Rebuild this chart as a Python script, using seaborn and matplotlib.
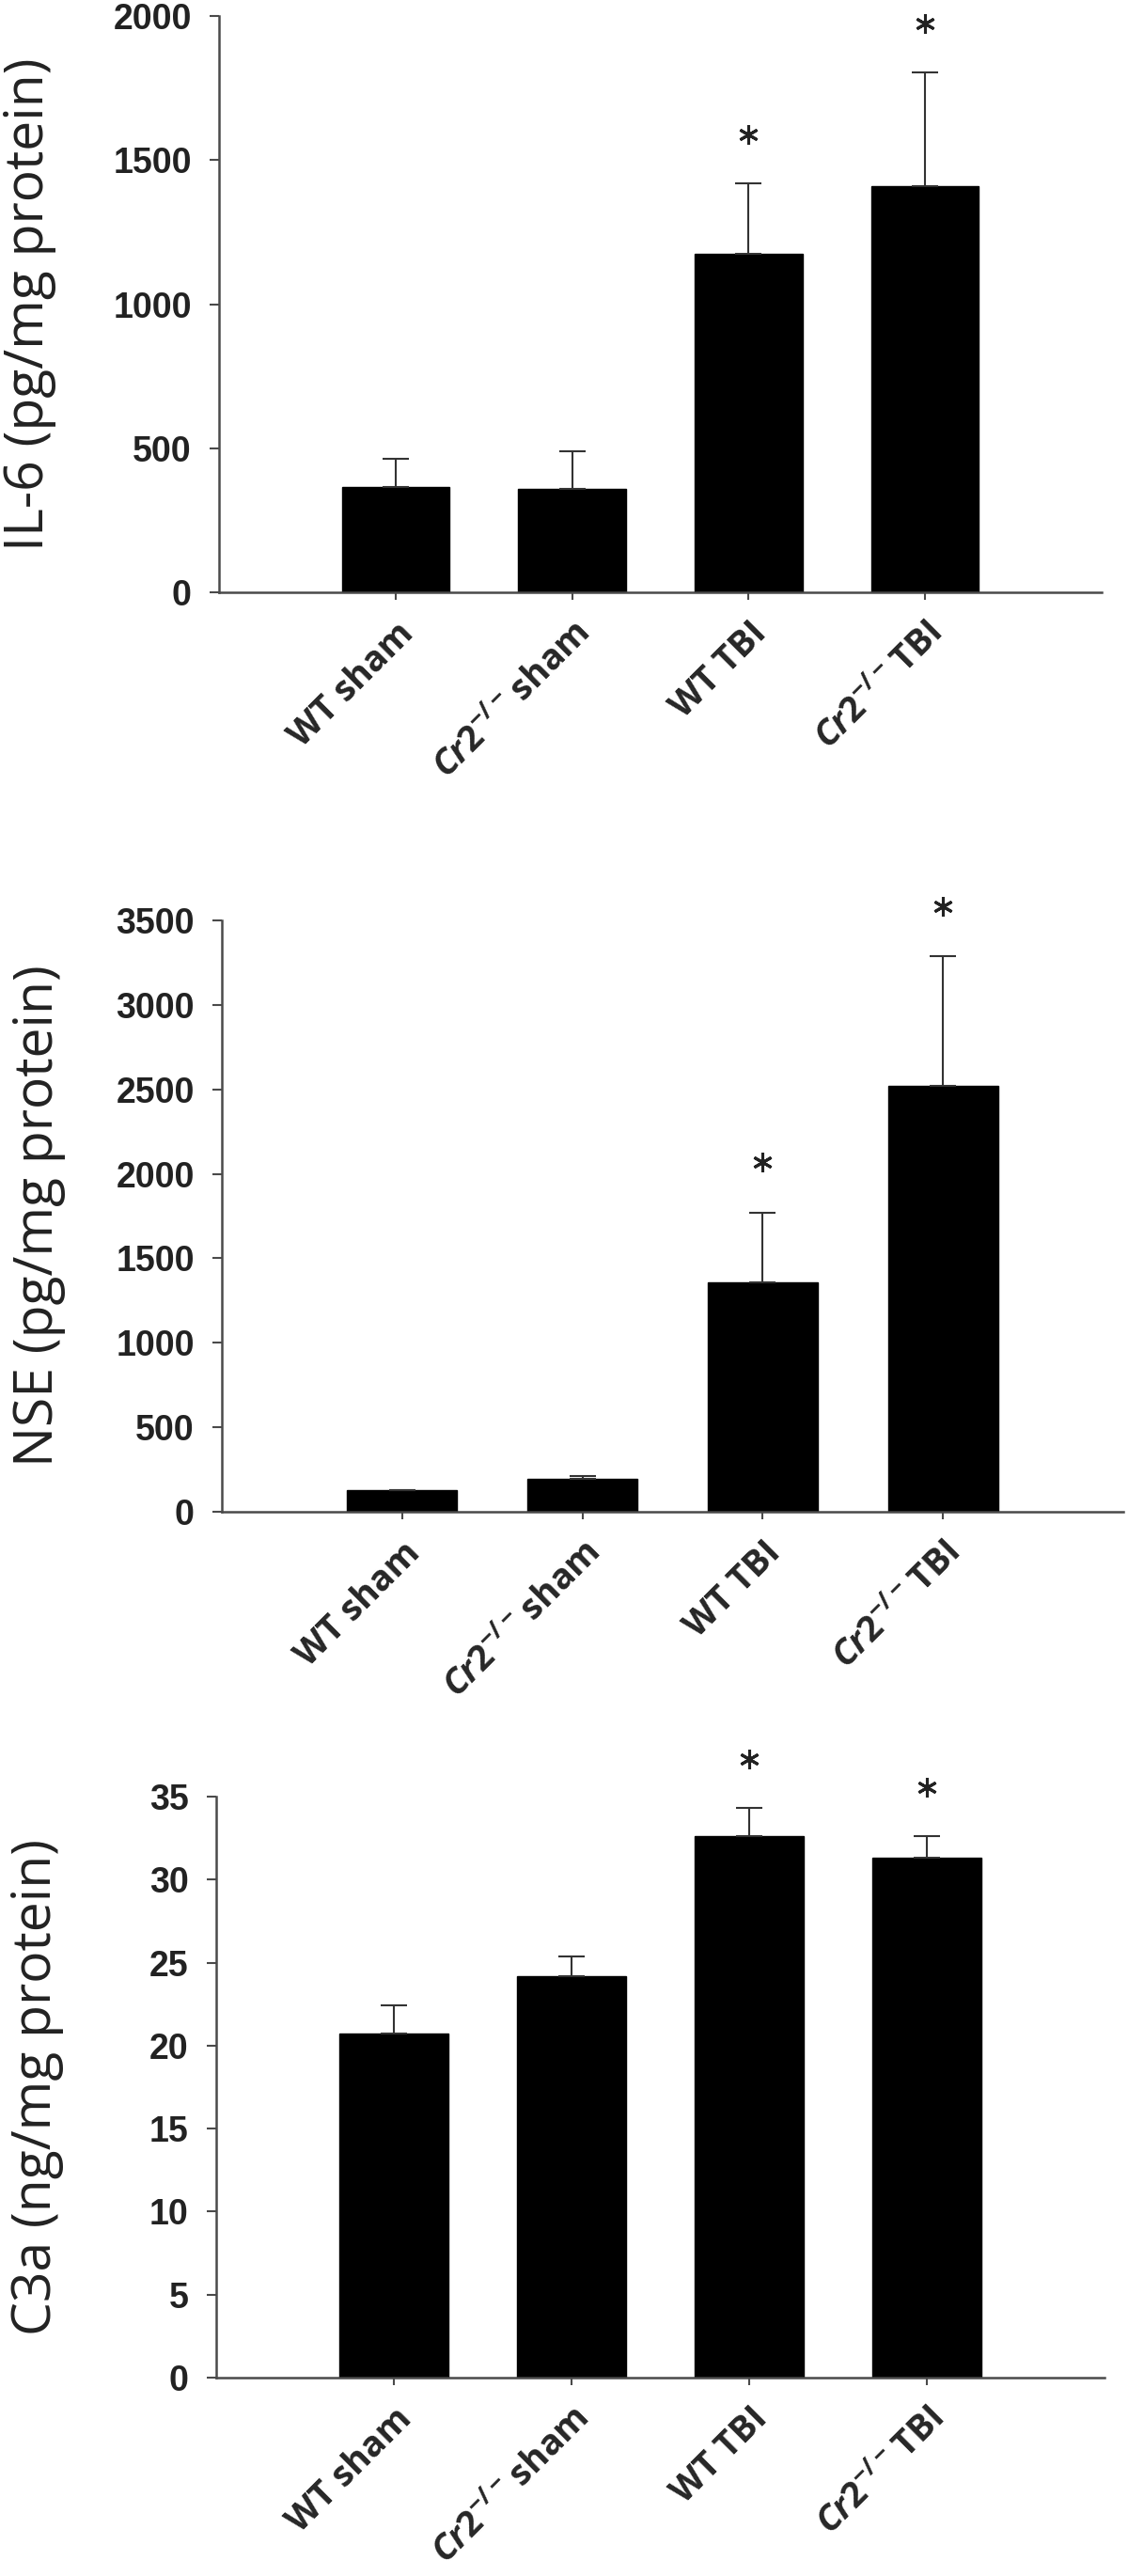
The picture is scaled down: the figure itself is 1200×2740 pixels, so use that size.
"""
Three stacked bar charts (IL-6, NSE, C3a) for WT vs Cr2-/- mice, sham vs TBI.
Mean + SEM (upper bar only), asterisks mark significance vs sham.
"""

import numpy as np
import pandas as pd
import matplotlib
matplotlib.use("Agg")
import matplotlib.pyplot as plt
import seaborn as sns

# --- data ---
groups = ["WT sham", "Cr2-/- sham", "WT TBI", "Cr2-/- TBI"]
tick_labels = [
    "WT sham",
    r"$\mathit{Cr2}^{\mathit{-/-}}\!$ sham",
    "WT TBI",
    r"$\mathit{Cr2}^{\mathit{-/-}}\!$ TBI",
]
significant = [False, False, True, True]

il6_mean = [365, 360, 1176, 1410]
il6_sem = [97, 131, 243, 393]

nse_mean = [128, 196, 1357, 2521]
nse_sem = [0, 13, 415, 766]

c3a_mean = [20.7, 24.2, 32.6, 31.3]
c3a_sem = [1.7, 1.2, 1.7, 1.3]

ylabels = ["IL-6 (pg/mg protein)", "NSE (pg/mg protein)", "C3a (ng/mg protein)"]
ymax = [2000, 3500, 35]
ystep = [500, 500, 5]

# --- layout (pixel boxes in the 1200x2740 canvas: left, top, right, bottom) ---
W, H = 1200, 2740
boxes = [(233, 17, 1172, 630), (236, 979, 1195, 1608), (230, 1911, 1175, 2529)]
ylabel_x = [32, 42, 39]

sns.set_style("ticks")
plt.rcParams["font.family"] = ["Liberation Sans", "DejaVu Sans"]
plt.rcParams["mathtext.fontset"] = "custom"
plt.rcParams["mathtext.it"] = "Open Sans:italic:bold"
plt.rcParams["mathtext.rm"] = "Open Sans:bold"
plt.rcParams["mathtext.bf"] = "Open Sans:bold"

AXIS_COLOR = "#4a4a4a"

fig = plt.figure(figsize=(W / 100, H / 100), dpi=100)

panels = [(il6_mean, il6_sem), (nse_mean, nse_sem), (c3a_mean, c3a_sem)]
for i, (mean, sem) in enumerate(panels):
    l, t, r, b = boxes[i]
    ax = fig.add_axes([l / W, 1 - b / H, (r - l) / W, (b - t) / H])

    df = pd.DataFrame({"group": groups, "value": mean})
    sns.barplot(data=df, x="group", y="value", color="black", width=0.61,
                edgecolor="black", linewidth=1, errorbar=None, ax=ax)

    x = np.arange(len(groups))
    ax.errorbar(x, mean, yerr=[np.zeros(len(sem)), sem], fmt="none",
                ecolor="#333333", elinewidth=1.5, capsize=10, capthick=1.5,
                zorder=1)

    # significance asterisks a bit above the error bar
    for xi, m, s, sig in zip(x, mean, sem, significant):
        if sig:
            ax.plot(xi, m + s + 0.085 * ymax[i], marker=(6, 2, 0), ms=15,
                    mew=2.2, color="#222222", clip_on=False)

    ax.set_xlim(-1, 4)
    ax.set_ylim(0, ymax[i])
    ax.set_yticks(np.arange(0, ymax[i] + 1e-9, ystep[i]))
    ax.set_xticks(x)
    ax.set_xticklabels(tick_labels, rotation=45, ha="right",
                       rotation_mode="anchor", fontsize=27,
                       family="Open Sans", fontweight="bold")
    for lab in ax.get_yticklabels():
        lab.set_fontweight("bold")
        lab.set_fontsize(27)
        lab.set_color("#222222")

    ax.set_xlabel("")
    ax.set_ylabel(ylabels[i], fontsize=41, family="Open Sans",
                  color="#222222", va="center")
    ax.yaxis.set_label_coords((ylabel_x[i] - l) / (r - l), 0.5)

    sns.despine(ax=ax)
    for side in ["left", "bottom"]:
        ax.spines[side].set_color(AXIS_COLOR)
        ax.spines[side].set_linewidth(1.8)
    ax.tick_params(axis="y", direction="out", length=7, width=1.5,
                   color=AXIS_COLOR, pad=14)
    ax.tick_params(axis="x", direction="out", length=6, width=1.5,
                   color=AXIS_COLOR, pad=12)

fig.savefig("out.png", dpi=100)
plt.close(fig)
